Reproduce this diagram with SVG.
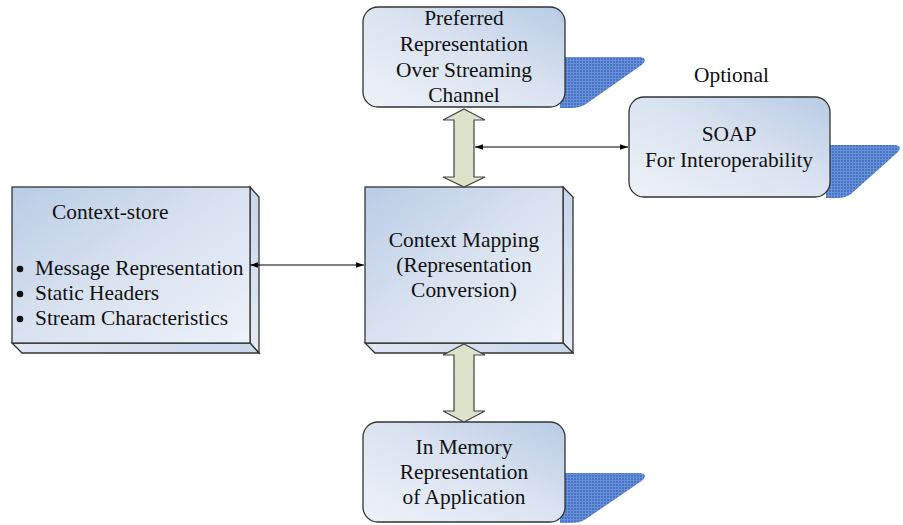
<svg xmlns="http://www.w3.org/2000/svg" width="903" height="525" viewBox="0 0 903 525">
  <style>
    .lbl { font-family: "Liberation Serif", "Times New Roman", serif; font-size: 21.4px; fill: #111; }
    .mid { text-anchor: middle; }
    .edge { stroke: #333; stroke-width: 1.3; }
    .link { stroke: #000; stroke-width: 1.2; fill: none; }
    .bigarrow { fill: #dde2cb; stroke: #444; stroke-width: 1.2; }
    .shadow { fill: url(#grid); }
  </style>
  <defs>
    <linearGradient id="roundFill" x1="0" y1="1" x2="1" y2="0">
      <stop offset="0" stop-color="#eef2f9"/>
      <stop offset="0.55" stop-color="#d9e2f0"/>
      <stop offset="1" stop-color="#b7cbe5"/>
    </linearGradient>
    <linearGradient id="boxFill" x1="0" y1="0" x2="1" y2="1">
      <stop offset="0" stop-color="#b9cce6"/>
      <stop offset="0.5" stop-color="#d9e2f0"/>
      <stop offset="1" stop-color="#eef2f9"/>
    </linearGradient>
    <linearGradient id="sideFill" x1="0" y1="0" x2="0" y2="1">
      <stop offset="0" stop-color="#c6d5ea"/>
      <stop offset="1" stop-color="#e6ecf6"/>
    </linearGradient>
    <linearGradient id="baseFill" x1="0" y1="0" x2="1" y2="0">
      <stop offset="0" stop-color="#dfe7f3"/>
      <stop offset="1" stop-color="#c9d7eb"/>
    </linearGradient>
    <pattern id="grid" width="3" height="3" patternUnits="userSpaceOnUse">
      <rect width="3" height="3" fill="#4574c8"/>
      <rect width="3" height="1" fill="#6a90d6"/>
      <rect width="1" height="3" fill="#6a90d6"/>
    </pattern>
    <marker id="tip" viewBox="0 0 10 10" refX="10" refY="5" markerWidth="7" markerHeight="7" orient="auto-start-reverse">
      <path d="M0,1.5 L10,5 L0,8.5 Z" fill="#000"/>
    </marker>
  </defs>

  <!-- streaming representation -->
  <g id="streaming">
    <path class="shadow" d="M560,57 L640,57 Q648,58 643,64 L586,104 Q580,108 571,108 L560,108 Z"/>
    <rect x="363" y="7" width="202" height="100" rx="15" fill="url(#roundFill)" class="edge"/>
    <text class="lbl mid" x="464" y="25">Preferred</text>
    <text class="lbl mid" x="464" y="51">Representation</text>
    <text class="lbl mid" x="464" y="77">Over Streaming</text>
    <text class="lbl mid" x="464" y="102">Channel</text>
  </g>

  <!-- optional SOAP -->
  <g id="soap">
    <text class="lbl" x="694" y="82">Optional</text>
    <path class="shadow" d="M826,145 L895,145 Q903,146 898,152 L851,194 Q846,198 837,198 L826,198 Z"/>
    <rect x="629" y="97" width="201" height="100" rx="15" fill="url(#roundFill)" class="edge"/>
    <text class="lbl mid" x="729" y="141">SOAP</text>
    <text class="lbl mid" x="729" y="167">For Interoperability</text>
  </g>

  <!-- context store -->
  <g id="context-store">
    <path d="M250,187 L259,197 L259,353 L250,343 Z" fill="url(#sideFill)" class="edge"/>
    <path d="M12,343 L250,343 L259,353 L22,353 Z" fill="url(#baseFill)" class="edge"/>
    <rect x="12" y="187" width="238" height="156" fill="url(#boxFill)" class="edge"/>
    <text class="lbl" x="52" y="219">Context-store</text>
    <circle cx="20" cy="269" r="3.3" fill="#111"/>
    <circle cx="20" cy="294" r="3.3" fill="#111"/>
    <circle cx="20" cy="319" r="3.3" fill="#111"/>
    <text class="lbl" x="35" y="275">Message Representation</text>
    <text class="lbl" x="35" y="300">Static Headers</text>
    <text class="lbl" x="35" y="325">Stream Characteristics</text>
  </g>

  <!-- context mapping -->
  <g id="context-mapping">
    <path d="M563,187 L573,197 L573,353 L563,343 Z" fill="url(#sideFill)" class="edge"/>
    <path d="M365,343 L563,343 L573,353 L375,353 Z" fill="url(#baseFill)" class="edge"/>
    <rect x="365" y="187" width="198" height="156" fill="url(#boxFill)" class="edge"/>
    <text class="lbl mid" x="464" y="247">Context Mapping</text>
    <text class="lbl mid" x="464" y="272">(Representation</text>
    <text class="lbl mid" x="464" y="297">Conversion)</text>
  </g>

  <!-- in-memory representation -->
  <g id="in-memory">
    <path class="shadow" d="M560,473 L640,473 Q648,474 643,480 L586,519 Q580,523 571,523 L560,523 Z"/>
    <rect x="363" y="422" width="202" height="100" rx="15" fill="url(#roundFill)" class="edge"/>
    <text class="lbl mid" x="464" y="454">In Memory</text>
    <text class="lbl mid" x="464" y="479">Representation</text>
    <text class="lbl mid" x="464" y="504">of Application</text>
  </g>

  <!-- connectors, drawn over the box edges -->
  <g id="connectors">
    <line class="link" x1="250" y1="265" x2="364" y2="265" marker-start="url(#tip)" marker-end="url(#tip)"/>
    <line class="link" x1="475" y1="147" x2="628" y2="147" marker-start="url(#tip)" marker-end="url(#tip)"/>
    <path class="bigarrow" d="M464,109 L485,120 L474,120 L474,177 L485,177 L464,187 L443,177 L454,177 L454,120 L443,120 Z"/>
    <path class="bigarrow" d="M464,344 L485,355 L474,355 L474,411 L485,411 L464,422 L443,411 L454,411 L454,355 L443,355 Z"/>
  </g>
</svg>
